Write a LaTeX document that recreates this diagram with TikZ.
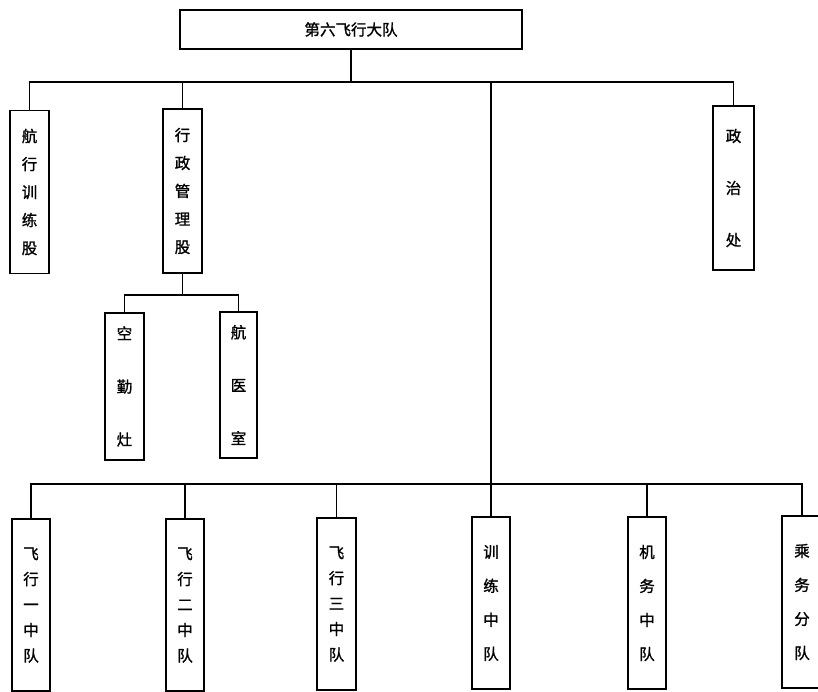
\documentclass[tikz,border=0pt]{standalone}
\usepackage{fontspec}
\newfontfamily\cjk[FakeBold=1.2]{Noto Sans CJK SC}
\usepackage{tikz}
\usetikzlibrary{positioning}

\begin{document}
\begin{tikzpicture}[
  x=1pt, y=-1pt,
  unitbox/.style={rectangle, draw=black, line width=1.6pt, inner sep=0pt,
                  align=center},
  colbox/.style={unitbox, minimum width=39pt, font=\cjk\fontsize{15.5}{#1}\selectfont},
  link/.style={line width=1.5pt, color=black}
]
\useasboundingbox (0,0) rectangle (818,692);

\node[unitbox, minimum width=342pt, minimum height=39pt, font=\cjk\fontsize{15.5}{17}\selectfont]
  (dadui) at (351,29.5) {第六飞行大队};

\node[colbox=28, minimum height=163pt] (hangxing) at (29.5,192) {航\\行\\训\\练\\股};
\node[colbox=28, minimum height=164pt] (xingzheng) at (182.5,191) {行\\政\\管\\理\\股};
\node[colbox=52, minimum width=41pt, minimum height=164pt] (zhengzhi) at (733.5,188) {政\\治\\处};

\node[colbox=53, minimum height=147pt] (kongqin) at (124.5,386.5) {空\\勤\\灶};
\node[colbox=53, minimum width=37pt, minimum height=146pt] (hangyi) at (238.5,385) {航\\医\\室};

\node[colbox=25.5, minimum width=38pt, minimum height=172pt] (zd1) at (31,605) {飞\\行\\一\\中\\队};
\node[colbox=25.5, minimum width=38pt, minimum height=172pt] (zd2) at (185,605) {飞\\行\\二\\中\\队};
\node[colbox=25.5, minimum width=39pt, minimum height=172pt] (zd3) at (336.5,604) {飞\\行\\三\\中\\队};
\node[colbox=34, minimum width=38pt, minimum height=172pt] (xunlian) at (491,603) {训\\练\\中\\队};
\node[colbox=34, minimum width=38pt, minimum height=172pt] (jiwu) at (647,603) {机\\务\\中\\队};
\node[colbox=34, minimum width=40pt, minimum height=172pt] (chengwu) at (802,602) {乘\\务\\分\\队};

\coordinate (topbus) at (351,82);
\coordinate (subbus) at (182.5,295);
\coordinate (lowbus) at (491,484);

\draw[link] (dadui.south) -- (topbus);
\draw[link] (hangxing.north) |- (topbus);
\draw[link] (zhengzhi.north) |- (topbus);
\draw[link] (xingzheng.north) -- (xingzheng.north |- topbus);
\draw[link] (xunlian.north) -- (xunlian.north |- topbus);

\draw[link] (xingzheng.south) -- (subbus);
\draw[link] (kongqin.north) |- (subbus);
\draw[link] (hangyi.north) |- (subbus);

\foreach \n in {zd1, zd2, zd3, jiwu, chengwu}
  \draw[link] (\n.north) |- (lowbus);

\end{tikzpicture}
\end{document}
